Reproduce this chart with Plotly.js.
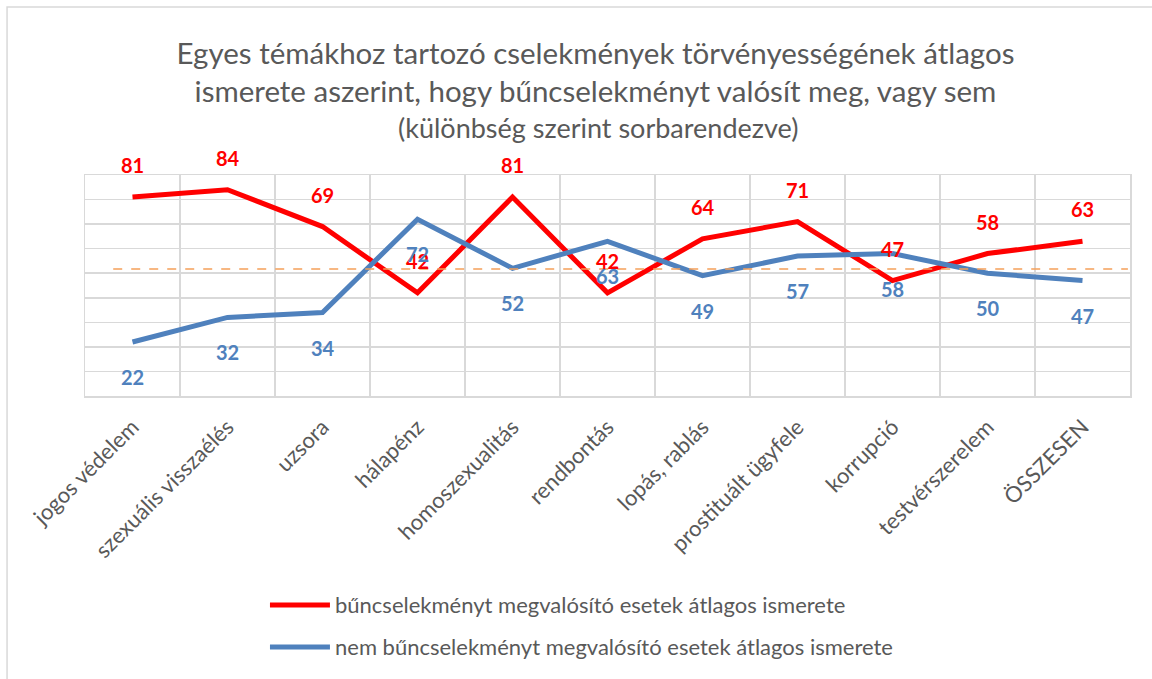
<!DOCTYPE html>
<html>
<head>
<meta charset="utf-8">
<script src="https://cdn.plot.ly/plotly-3.0.1.min.js"></script>
<style>html,body{margin:0;padding:0;background:#fff;}#chart{width:1152px;height:679px;}</style>
</head>
<body>
<div id="chart"></div>
<script>
const categories = ["jogos védelem","szexuális visszaélés","uzsora","hálapénz","homoszexualitás","rendbontás","lopás, rablás","prostituált ügyfele","korrupció","testvérszerelem","ÖSSZESEN"];
const seriesNames = ["bűncselekményt megvalósító esetek átlagos ismerete","nem bűncselekményt megvalósító esetek átlagos ismerete"];
const crimeValues = [81,84,69,42,81,42,64,71,47,58,63];
const nonCrimeValues = [22,32,34,72,52,63,49,57,58,50,47];
const referenceLevel = 51.7;
const titleLines = ["Egyes témákhoz tartozó cselekmények törvényességének átlagos","ismerete aszerint, hogy bűncselekményt valósít meg, vagy sem","(különbség szerint sorbarendezve)"];

const RED = "#ff0000", BLUE = "#4f81bd", GRID = "#d9d9d9", TXT = "#595959";
const FONT = "Lato, 'Open Sans', sans-serif";

const traces = [
  {x: categories, y: crimeValues, name: seriesNames[0], type: "scatter", mode: "lines",
   line: {color: RED, width: 5}, showlegend: false, hoverinfo: "x+y"},
  {x: categories, y: nonCrimeValues, name: seriesNames[1], type: "scatter", mode: "lines",
   line: {color: BLUE, width: 5}, showlegend: false, hoverinfo: "x+y"}
];

const annotations = [];
categories.forEach((c, i) => {
  annotations.push({x: c, y: crimeValues[i], xref: "x", yref: "y", text: String(crimeValues[i]),
    showarrow: false, yshift: 32, font: {family: FONT, size: 20, color: RED, weight: "bold"}});
});
categories.forEach((c, i) => {
  annotations.push({x: c, y: nonCrimeValues[i], xref: "x", yref: "y", text: String(nonCrimeValues[i]),
    showarrow: false, yshift: -35, font: {family: FONT, size: 20, color: BLUE, weight: "bold"}});
});
// subtitle
annotations.push({xref: "paper", yref: "paper", x: 0.491, y: 1.217, yanchor: "middle", showarrow: false,
  text: titleLines[2], font: {family: FONT, size: 27, color: TXT}});
// custom legend texts
annotations.push({xref: "paper", yref: "paper", x: 0.2373, y: -0.9457, xanchor: "left", yanchor: "middle",
  showarrow: false, text: seriesNames[0], font: {family: FONT, size: 22, color: TXT}});
annotations.push({xref: "paper", yref: "paper", x: 0.2373, y: -1.1357, xanchor: "left", yanchor: "middle",
  showarrow: false, text: seriesNames[1], font: {family: FONT, size: 22, color: TXT}});

const shapes = [
  {type: "line", xref: "paper", yref: "y", x0: 0.027, x1: 0.998, y0: referenceLevel, y1: referenceLevel,
   line: {color: "#f5a05a", width: 1.5, dash: "dash"}},
  {type: "rect", xref: "paper", yref: "paper", x0: -0.0746, x1: 1.05, y0: -1.5, y1: 1.760,
   line: {color: GRID, width: 1.5}, layer: "below"},
  {type: "line", xref: "paper", yref: "paper", x0: 0.177, x1: 0.2344, y0: -0.9457, y1: -0.9457,
   line: {color: RED, width: 5}},
  {type: "line", xref: "paper", yref: "paper", x0: 0.177, x1: 0.2344, y0: -1.1357, y1: -1.1357,
   line: {color: BLUE, width: 5}}
];

const layout = {
  width: 1152, height: 679,
  margin: {l: 85, r: 22, t: 175, b: 283},
  paper_bgcolor: "#fff", plot_bgcolor: "#fff",
  font: {family: FONT, color: TXT},
  title: {text: titleLines[0] + "<br>" + titleLines[1], font: {family: FONT, size: 29.5, color: TXT},
          x: 0.4885, xanchor: "center", xref: "paper", y: 0.906, yref: "container", yanchor: "middle"},
  xaxis: {type: "category", range: [-0.5, 10.5], tickson: "boundaries", showgrid: true, gridcolor: GRID, gridwidth: 1.5,
          ticks: "", tickangle: -45, tickfont: {family: FONT, size: 22, color: TXT}, ticklabelstandoff: 8,
          showline: true, linecolor: GRID, linewidth: 1.5, mirror: true, zeroline: false, fixedrange: true},
  yaxis: {range: [0, 90], dtick: 10, showgrid: true, gridcolor: GRID, gridwidth: 1.5, showticklabels: false,
          ticks: "", zeroline: false, showline: true, linecolor: GRID, linewidth: 1.5, mirror: true, fixedrange: true},
  annotations: annotations,
  shapes: shapes,
  showlegend: false
};

Plotly.newPlot("chart", traces, layout, {displayModeBar: false, staticPlot: true});
</script>
</body>
</html>
